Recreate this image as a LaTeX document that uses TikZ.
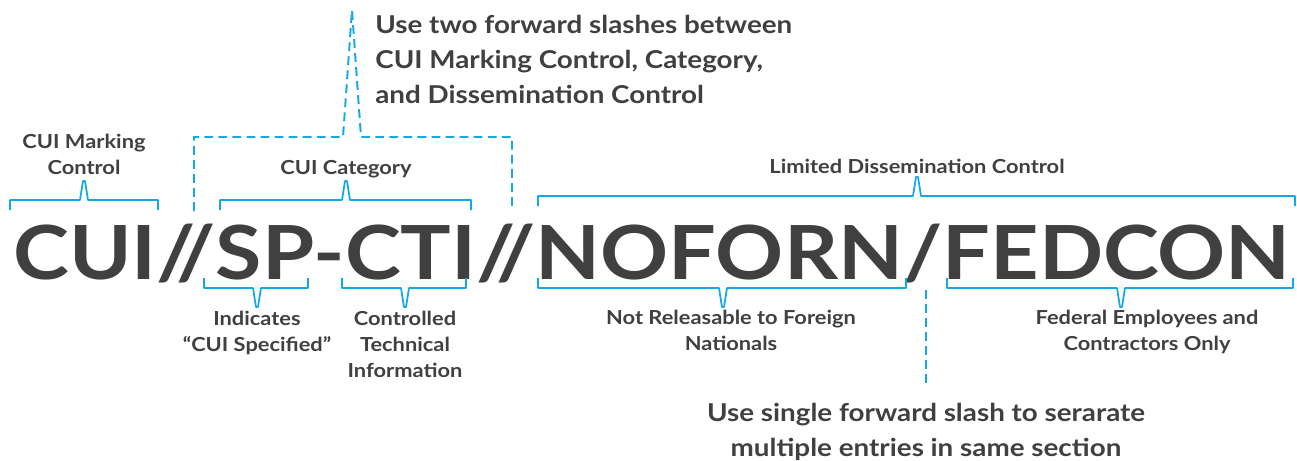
\documentclass[tikz,border=0pt]{standalone}
\usepackage{fontspec}
\setmainfont{Lato}[FakeStretch=1.13]
\usetikzlibrary{positioning}
\definecolor{markblue}{RGB}{20,168,228}
\definecolor{markgray}{RGB}{64,64,64}

\begin{document}
\begin{tikzpicture}[x=0.02cm,y=-0.02cm,
    brace/.style={draw=markblue,line width=1pt,line join=round},
    guide/.style={draw=markblue,line width=1.1pt,dash pattern=on 5pt off 3pt},
    lbl/.style={text=markgray,font=\bfseries\fontsize{11}{14.7}\selectfont,align=center,inner sep=0pt},
    note/.style={text=markgray,font=\bfseries\fontsize{14}{19.8}\selectfont,inner sep=0pt}]
    \useasboundingbox[fill=white] (0,0) rectangle (1297,460);

    % the marking
    \node[anchor=base west,inner sep=0pt,text=markgray] (marking) at (13,279) {\resizebox{25.54cm}{!}{\bfseries CUI//SP-CTI//NOFORN/FEDCON}};

    % labels
    \node[lbl,anchor=north] (ctrl) at (84,134) {CUI Marking\\Control};
    \node[lbl,anchor=north] (cat) at (346,160) {CUI Category};
    \node[lbl,anchor=north] (ldc) at (917,159) {Limited Dissemination Control};
    \node[lbl,anchor=north] (sp) at (257,311) {Indicates\\“CUI Specified”};
    \node[lbl,anchor=north] (cti) at (405,311) {Controlled\\Technical\\Information};
    \node[lbl,anchor=north] (nofo) at (731,310) {Not Releasable to Foreign\\Nationals};
    \node[lbl,anchor=north] (fed) at (1147,310) {Federal Employees and\\Contractors Only};
    \node[note,anchor=north west,align=left] (dbl) at (375,15) {Use two forward slashes between\\CUI Marking Control, Category,\\and Dissemination Control};
    \node[note,anchor=north,align=center] (sgl) at (926,403) {Use single forward slash to serarate\\multiple entries in same section};

    % brackets
    \foreach \l/\r/\t/\y/\s in {10/158/84/200/1, 220/471/346/200/1, 538/1295/917/196/1,
            204/308/257/288/-1, 342/466/405/288/-1, 538/906/723/288/-1, 947/1293/1121/288/-1}
        \draw[brace] ({\l},{\y+10*(\s)}) -- (\l,\y) -- ({\t-4},\y) -- ({\t-1},{\y-19*(\s)})
            -- ({\t+1},{\y-19*(\s)}) -- ({\t+4},\y) -- (\r,\y) -- ({\r},{\y+10*(\s)});

    % dashed guides
    \draw[guide] (194,211) -- (194,137) -- (343,137) -- (352,10) -- (361,137) -- (512,137) -- (512,211);
    \draw[guide] (926,290) -- (926,387);
\end{tikzpicture}
\end{document}
